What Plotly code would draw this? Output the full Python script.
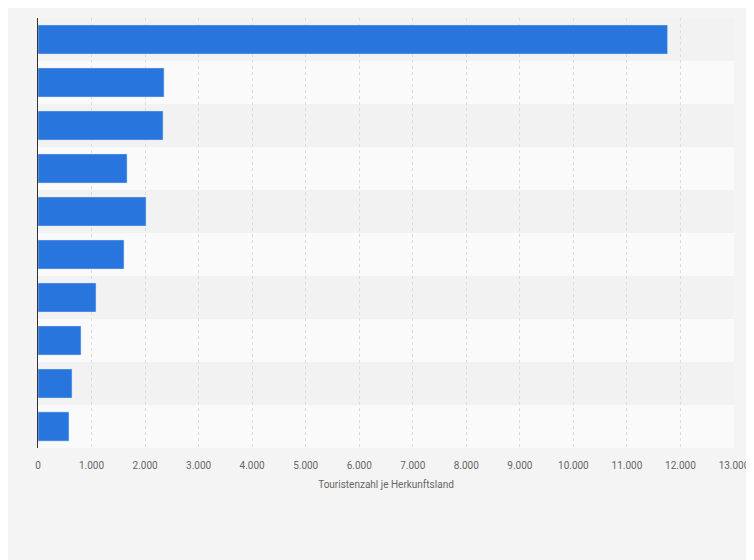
import plotly.graph_objects as go

categories = ["Land 1", "Land 2", "Land 3", "Land 4", "Land 5",
              "Land 6", "Land 7", "Land 8", "Land 9", "Land 10"]
values = [11760, 2355, 2336, 1664, 2019, 1607, 1084, 804, 636, 579]
tick_vals = list(range(0, 14000, 1000))
tick_text = ["0"] + [f"{v // 1000}.000" for v in tick_vals[1:]]

fig = go.Figure()
fig.add_trace(go.Bar(
    y=categories, x=values, orientation="h",
    marker=dict(color="#2876dd"), width=0.68,
))

# alternating row bands
for i, c in enumerate(categories):
    fig.add_shape(type="rect", xref="paper", yref="y",
                  x0=0, x1=1, y0=i - 0.5, y1=i + 0.5,
                  fillcolor="#f2f2f2" if i % 2 == 0 else "#fafafa",
                  line_width=0, layer="below")

fig.update_layout(
    width=754, height=560,
    margin=dict(l=30, r=28, t=10, b=120, autoexpand=False),
    paper_bgcolor="#f4f4f4", plot_bgcolor="#f4f4f4",
    showlegend=False,
    font=dict(family="Roboto, Arial", size=10, color="#666"),
    xaxis=dict(range=[0, 13000], tickvals=tick_vals, ticktext=tick_text,
               showgrid=True, gridcolor="#dcdcdc", griddash="dot",
               zeroline=False, ticks="outside", ticklen=8,
               tickcolor="rgba(0,0,0,0)", automargin=False,
               title=dict(text="Touristenzahl je Herkunftsland",
                          font=dict(size=10, color="#666"), standoff=10)),
    yaxis=dict(autorange="reversed", showticklabels=False, showgrid=False,
               showline=True, linecolor="#333", linewidth=1, zeroline=False,
               automargin=False),
)

fig.write_html("out.html")
